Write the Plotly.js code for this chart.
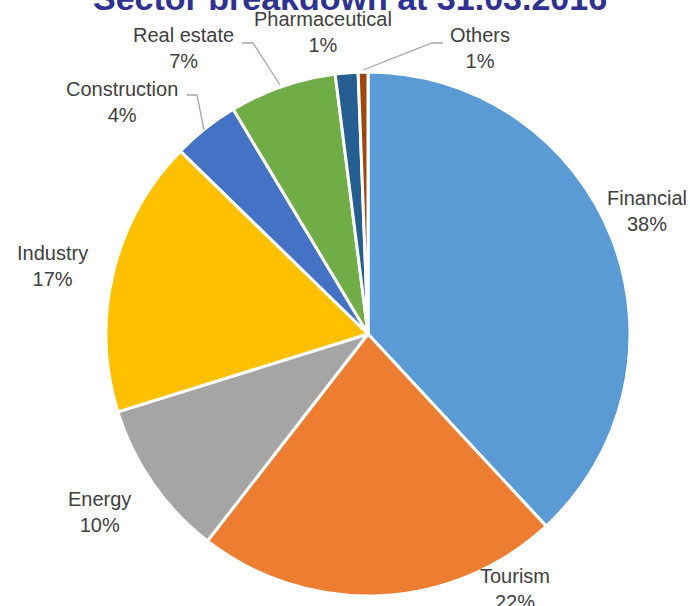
<!DOCTYPE html>
<html>
<head>
<meta charset="utf-8">
<script src="https://cdn.plot.ly/plotly-3.0.1.min.js"></script>
<style>html,body{margin:0;padding:0;background:#fff;}#chart{width:690px;height:606px;}</style>
</head>
<body>
<div id="chart"></div>
<script>
const titleText = 'Sector breakdown at 31.03.2016';
const labels = ['Financial', 'Tourism', 'Energy', 'Industry', 'Construction', 'Real estate', 'Pharmaceutical', 'Others'];
const values = [38.1, 22.4, 9.7, 17.1, 4.1, 6.6, 1.4, 0.6];
const colors = ['#5B9BD5', '#ED7D31', '#A5A5A5', '#FFC000', '#4472C4', '#70AD47', '#255E91', '#9E480E'];

// label block centres (pixels) and leader lines – layout only
const labelPos = [[647, 211], [515, 589], [99, 512], [52, 266], [122, 102], [183, 48], [323, 32], [480, 48]];
const leaders = [
  [[187, 95], [197, 95], [204, 130]],
  [[242, 43], [253, 43], [280, 85]],
  [[443, 43], [432, 43], [363, 70]]
];

const W = 690, H = 606;
const px = x => x / W;
const py = y => 1 - y / H;
const total = values.reduce((a, b) => a + b, 0);

const annotations = labels.map((lab, i) => ({
  xref: 'paper', yref: 'paper',
  x: px(labelPos[i][0]), y: py(labelPos[i][1]),
  xanchor: 'center', yanchor: 'middle',
  text: lab + '<br>' + Math.round(values[i] / total * 100) + '%',
  showarrow: false,
  font: {family: 'Liberation Sans, Arial, sans-serif', size: 20, color: '#404040'}
}));
annotations.push({
  xref: 'paper', yref: 'paper', x: px(350), y: py(13),
  xanchor: 'center', yanchor: 'bottom', yshift: -6,
  text: '<b>' + titleText + '</b>', showarrow: false,
  font: {family: 'Liberation Sans, Arial, sans-serif', size: 34, color: '#2F3291'}
});

const shapes = leaders.map(pts => ({
  type: 'path', xref: 'paper', yref: 'paper',
  path: pts.map((p, j) => (j ? 'L' : 'M') + px(p[0]) + ',' + py(p[1])).join(' '),
  line: {color: '#A6A6A6', width: 1.3}
}));

const cx = 368, cy = 334, r = 262;
const trace = {
  type: 'pie', labels: labels, values: values, sort: false,
  direction: 'clockwise', rotation: 0,
  marker: {colors: colors, line: {color: '#FFFFFF', width: 3}},
  textinfo: 'none', hoverinfo: 'label+percent',
  domain: {x: [px(cx - r), px(cx + r)], y: [py(cy + r), py(cy - r)]},
  showlegend: false
};

Plotly.newPlot('chart', [trace], {
  width: W, height: H,
  margin: {l: 0, r: 0, t: 0, b: 0},
  paper_bgcolor: '#FFFFFF',
  annotations: annotations, shapes: shapes,
  showlegend: false
}, {displayModeBar: false, staticPlot: true});
</script>
</body>
</html>
